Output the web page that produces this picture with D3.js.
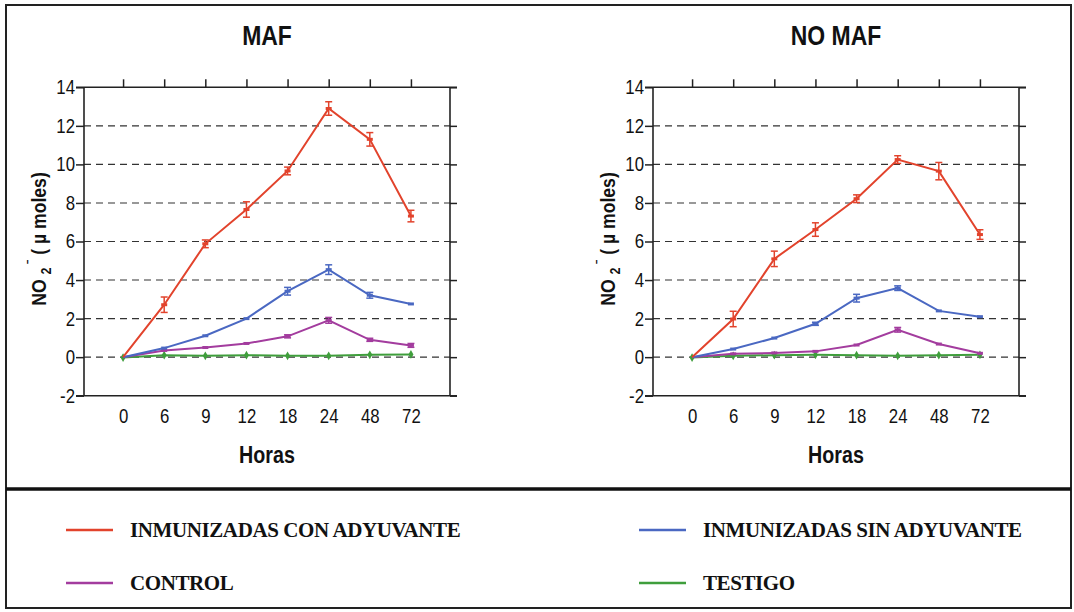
<!DOCTYPE html>
<html><head><meta charset="utf-8">
<script src="https://cdn.jsdelivr.net/npm/d3@7"></script>
<style>body{margin:0;background:#fff}svg{display:block}</style>
</head><body>
<svg id="c" width="1074" height="612"></svg>
<script>
const categories = ["0","6","9","12","18","24","48","72"];
const yTicks = [-2,0,2,4,6,8,10,12,14];
const gridTicks = [0,2,4,6,8,10,12];
const seriesNames = ["INMUNIZADAS CON ADYUVANTE","INMUNIZADAS SIN ADYUVANTE","CONTROL","TESTIGO"];
const seriesColors = ["#e2432c","#4a68c2","#a33c9e","#3f9e3c"];

const mafCon     = [0, 2.72, 5.88, 7.66, 9.66, 12.9, 11.3, 7.32];
const mafConErr  = [0, 0.4, 0.2, 0.4, 0.2, 0.35, 0.35, 0.3];
const mafSin     = [0, 0.47, 1.11, 2.0, 3.42, 4.54, 3.21, 2.76];
const mafSinErr  = [0, 0.05, 0.05, 0.05, 0.2, 0.25, 0.15, 0.05];
const mafCtl     = [0, 0.35, 0.5, 0.71, 1.08, 1.91, 0.9, 0.61];
const mafCtlErr  = [0, 0.05, 0.03, 0.05, 0.08, 0.15, 0.08, 0.1];
const mafTes     = [-0.02, 0.1, 0.07, 0.1, 0.07, 0.07, 0.12, 0.14];
const mafTesErr  = [0, 0.03, 0.03, 0.03, 0.03, 0.03, 0.03, 0.03];

const noCon      = [0, 1.98, 5.1, 6.62, 8.22, 10.25, 9.65, 6.36];
const noConErr   = [0, 0.4, 0.4, 0.35, 0.2, 0.2, 0.45, 0.25];
const noSin      = [0, 0.42, 0.99, 1.73, 3.06, 3.58, 2.4, 2.1];
const noSinErr   = [0, 0.04, 0.04, 0.08, 0.2, 0.12, 0.06, 0.06];
const noCtl      = [0, 0.17, 0.22, 0.3, 0.63, 1.42, 0.68, 0.2];
const noCtlErr   = [0, 0.04, 0.04, 0.05, 0.05, 0.12, 0.06, 0.04];
const noTes      = [-0.02, 0.07, 0.1, 0.12, 0.1, 0.07, 0.1, 0.12];
const noTesErr   = [0, 0.03, 0.03, 0.03, 0.03, 0.03, 0.03, 0.03];

const panels = [
  {title:"MAF", x0:84, x1:450, series:[[mafCon,mafConErr],[mafSin,mafSinErr],[mafCtl,mafCtlErr],[mafTes,mafTesErr]]},
  {title:"NO MAF", x0:653, x1:1019, series:[[noCon,noConErr],[noSin,noSinErr],[noCtl,noCtlErr],[noTes,noTesErr]]}
];

const svg = d3.select("#c");
const ink = "#222";
const FONT = "'Liberation Sans', Arial, sans-serif";
const SQ = 0.84; // horizontal condensing of the sans text

svg.append("rect").attr("x",6).attr("y",5).attr("width",1065).attr("height",484)
  .attr("fill","none").attr("stroke",ink).attr("stroke-width",2);
svg.append("rect").attr("x",6).attr("y",489).attr("width",1065).attr("height",119)
  .attr("fill","none").attr("stroke",ink).attr("stroke-width",2);
svg.append("line").attr("x1",6).attr("x2",1071).attr("y1",489).attr("y2",489)
  .attr("stroke","#111").attr("stroke-width",3.5);

const yTop = 87.3, yBot = 395.7;

panels.forEach(p => {
  const x = d3.scalePoint().domain(categories).range([p.x0, p.x1]).padding(0.95);
  const y = d3.scaleLinear().domain([-2,14]).range([yBot, yTop]);
  const g = svg.append("g");
  const cx = (p.x0 + p.x1)/2;

  g.selectAll(".grid").data(gridTicks).join("line")
    .attr("x1",p.x0).attr("x2",p.x1).attr("y1",d=>y(d)).attr("y2",d=>y(d))
    .attr("stroke","#333").attr("stroke-width",1.1).attr("stroke-dasharray","7,5");

  const la = g.append("g").attr("transform",`translate(${p.x0},0)`)
    .call(d3.axisLeft(y).tickValues(yTicks).tickSize(8).tickPadding(1).tickFormat(d => String(d)));
  const ra = g.append("g").attr("transform",`translate(${p.x1},0)`)
    .call(d3.axisRight(y).tickValues(yTicks).tickSize(7).tickFormat(""));
  const ta = g.append("g").attr("transform",`translate(0,${yTop})`)
    .call(d3.axisTop(x).tickSize(8).tickFormat(""));
  const ba = g.append("g").attr("transform",`translate(0,${yBot})`)
    .call(d3.axisBottom(x).tickSize(0).tickPadding(13));
  [la,ra,ta,ba].forEach(a => {
    a.select(".domain").remove();
    a.selectAll("line").attr("stroke",ink).attr("stroke-width",1.5);
    a.selectAll("text").attr("fill","#111").style("font-family",FONT).style("font-size","20px");
  });
  la.selectAll("text").attr("x",-9/SQ).attr("transform",`scale(${SQ},1)`);
  ba.selectAll("text").attr("dy","0.71em").attr("transform",`scale(${SQ},1)`);
  g.append("line").attr("x1",p.x0).attr("x2",p.x0).attr("y1",yTop).attr("y2",yBot).attr("stroke",ink).attr("stroke-width",1.6);
  g.append("line").attr("x1",p.x1).attr("x2",p.x1).attr("y1",yTop).attr("y2",yBot).attr("stroke",ink).attr("stroke-width",1.6);
  g.append("line").attr("x1",p.x0-8).attr("x2",p.x1+7).attr("y1",yTop).attr("y2",yTop).attr("stroke",ink).attr("stroke-width",1.6);
  g.append("line").attr("x1",p.x0-8).attr("x2",p.x1+7).attr("y1",yBot).attr("y2",yBot).attr("stroke",ink).attr("stroke-width",1.6);

  const line = d3.line().x((d,i)=>x(categories[i])).y(d=>y(d));
  [3,2,1,0].forEach(si => {
    const [vals, errs] = p.series[si];
    const col = seriesColors[si];
    const sg = g.append("g");
    sg.append("path").attr("d",line(vals)).attr("fill","none").attr("stroke",col).attr("stroke-width",2);
    vals.forEach((v,i) => {
      const px = x(categories[i]), e = errs[i];
      if (e > 0.06) {
        sg.append("line").attr("x1",px).attr("x2",px).attr("y1",y(v-e)).attr("y2",y(v+e)).attr("stroke",col).attr("stroke-width",1.5);
        [v-e, v+e].forEach(c => sg.append("line").attr("x1",px-3.5).attr("x2",px+3.5).attr("y1",y(c)).attr("y2",y(c)).attr("stroke",col).attr("stroke-width",1.5));
      }
      if (si === 3) {
        sg.append("path").attr("d", d3.symbol().type(d3.symbolDiamond).size(22)()).attr("transform",`translate(${px},${y(v)})`).attr("fill",col);
      } else if (i > 0) {
        sg.append("rect").attr("x",px-3).attr("y",y(v)-1.5).attr("width",6).attr("height",3).attr("fill",col);
      }
    });
  });

  svg.append("g").attr("transform",`translate(${cx},45) scale(0.82,1)`).append("text").attr("text-anchor","middle")
    .style("font-family",FONT).style("font-weight","bold").style("font-size","28px").attr("fill","#111").text(p.title);
  svg.append("g").attr("transform",`translate(${cx},463) scale(0.82,1)`).append("text").attr("text-anchor","middle")
    .style("font-family",FONT).style("font-weight","bold").style("font-size","24px").attr("fill","#111").text("Horas");
  const yl = svg.append("g").attr("transform",`translate(${p.x0-38},239) rotate(-90) scale(0.84,1)`).append("text").attr("text-anchor","middle")
    .style("font-family",FONT).style("font-weight","bold").style("font-size","21px").attr("fill","#111");
  yl.append("tspan").text("NO ");
  yl.append("tspan").attr("dy",5).style("font-size","15px").text("2");
  yl.append("tspan").attr("dy",-14).style("font-size","15px").text(" ˉ");
  yl.append("tspan").attr("dy",9).text(" ( µ moles)");
});

const legendPos = [[66,530],[639,530],[66,583],[639,583]];
seriesNames.forEach((n,i) => {
  const [lx,ly] = legendPos[i];
  svg.append("line").attr("x1",lx).attr("x2",lx+47).attr("y1",ly).attr("y2",ly).attr("stroke",seriesColors[i]).attr("stroke-width",2.5);
  svg.append("text").attr("x",lx+64).attr("y",ly+7).style("font-family","'Liberation Serif','Times New Roman',serif")
    .style("font-weight","bold").style("font-size","21px").style("letter-spacing","-0.4px").attr("fill","#111").text(n);
});
</script>
</body></html>
